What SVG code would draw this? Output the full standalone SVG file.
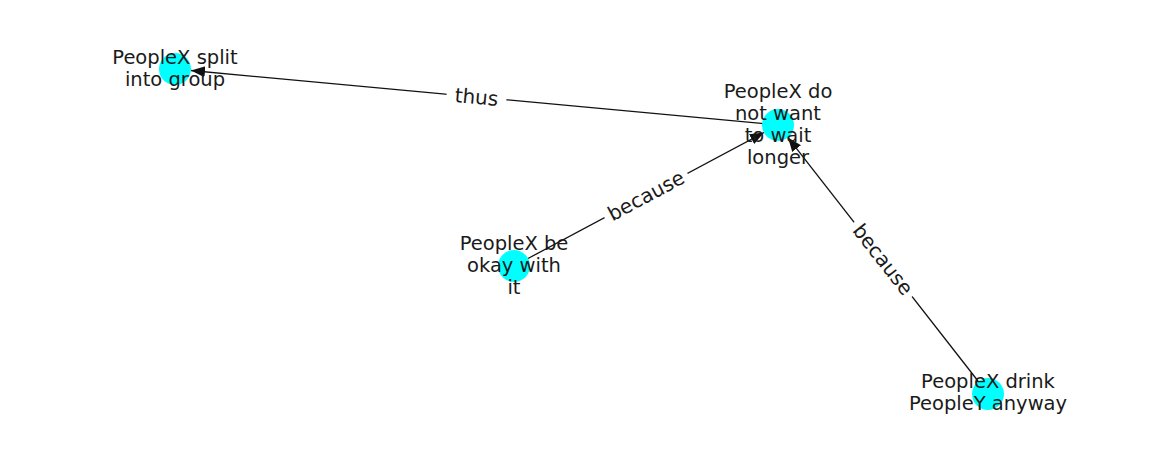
<svg xmlns="http://www.w3.org/2000/svg" width="1162" height="462" viewBox="0 0 1162 462">
<style>
.node{fill:#00ffff;}
.lbl{font-family:"DejaVu Sans",sans-serif;font-size:19.5px;fill:#1a1a1a;text-anchor:middle;}
.edge{stroke:#111;stroke-width:1.3;fill:none;}
.elbl{font-family:"DejaVu Sans",sans-serif;font-size:20px;fill:#1a1a1a;text-anchor:middle;dominant-baseline:central;}
.bg{fill:#ffffff;}
</style>
<defs>
<marker id="arr" markerUnits="userSpaceOnUse" markerWidth="16" markerHeight="12" refX="14" refY="5.5" orient="auto">
<path d="M0,0 L14,5.5 L0,11 Z" fill="#111"/>
</marker>
</defs>
<rect width="1162" height="462" fill="#ffffff"/>
<g id="edges">
<line class="edge" x1="778" y1="125" x2="191" y2="70.5" marker-end="url(#arr)"/>
<line class="edge" x1="528" y1="258.5" x2="764" y2="132.5" marker-end="url(#arr)"/>
<line class="edge" x1="978" y1="381" x2="788" y2="137.6" marker-end="url(#arr)"/>
<g transform="translate(476.5,97) rotate(5.3)">
<rect class="bg" x="-30" y="-14" width="60" height="28"/>
<text class="elbl" x="0" y="0">thus</text>
</g>
<g transform="translate(646,195.5) rotate(-28.1)">
<rect class="bg" x="-47" y="-14" width="94" height="28"/>
<text class="elbl" x="0" y="0">because</text>
</g>
<g transform="translate(883,259.5) rotate(52)">
<rect class="bg" x="-47" y="-14" width="94" height="28"/>
<text class="elbl" x="0" y="0">because</text>
</g>
</g>
<g id="nodeA">
<circle class="node" cx="175" cy="69" r="16"/>
<text class="lbl" x="175" y="64">PeopleX split</text>
<text class="lbl" x="175" y="86">into group</text>
</g>
<g id="nodeB">
<circle class="node" cx="778" cy="125" r="16"/>
<text class="lbl" x="778" y="98">PeopleX do</text>
<text class="lbl" x="778" y="120">not want</text>
<text class="lbl" x="778" y="142">to wait</text>
<text class="lbl" x="778" y="164">longer</text>
</g>
<g id="nodeC">
<circle class="node" cx="514" cy="266" r="16"/>
<text class="lbl" x="514" y="250">PeopleX be</text>
<text class="lbl" x="514" y="272">okay with</text>
<text class="lbl" x="514" y="294">it</text>
</g>
<g id="nodeD">
<circle class="node" cx="988" cy="394" r="16"/>
<text class="lbl" x="988" y="388">PeopleX drink</text>
<text class="lbl" x="988" y="410">PeopleY anyway</text>
</g>
</svg>
